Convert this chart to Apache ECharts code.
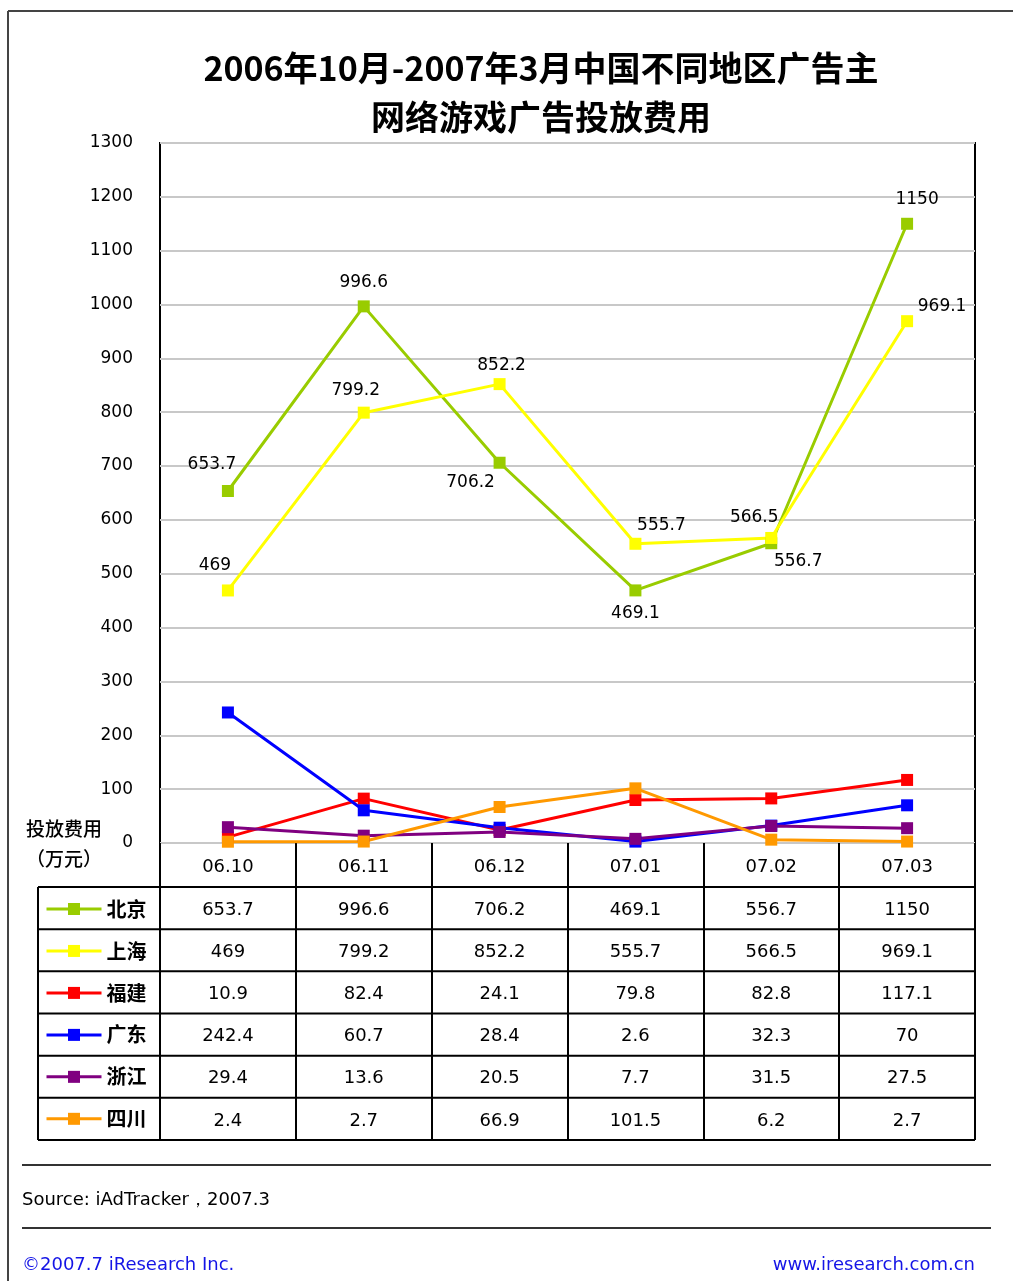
<!DOCTYPE html>
<html><head><meta charset="utf-8">
<script src="https://cdn.jsdelivr.net/npm/echarts@6/dist/echarts.min.js"></script>
<style>html,body{margin:0;padding:0;background:#fff}#c{width:1013px;height:1281px}</style>
</head><body><div id="c"></div>
<script>
// ---- data ----
const categories = ['06.10', '06.11', '06.12', '07.01', '07.02', '07.03'];
const regions = ['北京', '上海', '福建', '广东', '浙江', '四川'];
const beijing = [653.7, 996.6, 706.2, 469.1, 556.7, 1150];
const shanghai = [469, 799.2, 852.2, 555.7, 566.5, 969.1];
const fujian = [10.9, 82.4, 24.1, 79.8, 82.8, 117.1];
const guangdong = [242.4, 60.7, 28.4, 2.6, 32.3, 70];
const zhejiang = [29.4, 13.6, 20.5, 7.7, 31.5, 27.5];
const sichuan = [2.4, 2.7, 66.9, 101.5, 6.2, 2.7];
const yMin = 0, yMax = 1300, yStep = 100;
const titleText = '2006年10月-2007年3月中国不同地区广告主\n网络游戏广告投放费用';

// ---- styles / layout ----
const seriesValues = [beijing, shanghai, fujian, guangdong, zhejiang, sichuan];
const colors = ['#99CC00', '#FFFF00', '#FF0000', '#0000FF', '#800080', '#FF9900'];
const labelOffsets = [
  [[-16, -26], [0, -24], [-29, 20], [0, 23], [27, 18], [10, -24]],
  [[-13, -25], [-8, -22], [2, -19], [26, -18], [-17, -20], [35, -15]],
  null, null, null, null
];
const G = { left: 160, right: 975, top: 143, bottom: 843 };
const tableLeft = 38, headerBottom = 887, tableBottom = 1140;
const rowH = (tableBottom - headerBottom) / 6;
const legendItemH = 20.2;
const numFont = 'DejaVu Sans';
const cjkFont = 'Noto Sans CJK SC';

const xAxes = [{
  type: 'category', data: categories, position: 'bottom', gridIndex: 0,
  axisLine: { show: false },
  axisTick: { show: true, inside: false, length: tableBottom - G.bottom, lineStyle: { color: '#000', width: 2 } },
  axisLabel: { interval: 0, margin: (headerBottom - G.bottom) / 2 + 2, verticalAlign: 'middle', fontFamily: numFont, fontSize: 18, color: '#000' }
}];
seriesValues.forEach((vals, i) => {
  xAxes.push({
    type: 'category', data: categories, position: 'bottom', gridIndex: 0,
    offset: headerBottom + i * rowH - G.bottom,
    axisLine: { show: false }, axisTick: { show: false },
    axisLabel: { interval: 0, margin: rowH / 2 + 2, verticalAlign: 'middle', fontFamily: numFont, fontSize: 18, color: '#000',
      formatter: (v, idx) => String(vals[idx]) }
  });
});

const series = regions.map((name, i) => ({
  name, type: 'line', xAxisIndex: 0, yAxisIndex: 0,
  symbol: 'rect', symbolSize: 12,
  lineStyle: { width: 3, color: colors[i] },
  itemStyle: { color: colors[i] },
  data: seriesValues[i].map((v, j) => labelOffsets[i] ? {
    value: v,
    label: { show: true, position: 'inside', offset: labelOffsets[i][j], formatter: String(v),
      fontFamily: numFont, fontSize: 17, color: '#000' }
  } : v),
  animation: false
}));

const graphics = [];
const line = (x1, y1, x2, y2, color, w) => graphics.push({ type: 'line', shape: { x1, y1, x2, y2 }, style: { stroke: color, lineWidth: w }, silent: true });
// outer frame
line(8, 11, 1013, 11, '#444', 2);
line(8, 11, 8, 1281, '#444', 2);
// table rules
for (let k = 0; k <= 6; k++) { const y = headerBottom + k * rowH; line(tableLeft, y, G.right, y, '#000', 2); }
line(tableLeft, headerBottom, tableLeft, tableBottom, '#000', 2);
// footer rules
line(22, 1165, 991, 1165, '#333', 2);
line(22, 1228, 991, 1228, '#333', 2);
const text = (t, x, y, opts) => graphics.push({ type: 'text', x, y, silent: true, style: Object.assign({ text: t, fill: '#000', verticalAlign: 'middle' }, opts) });
text('投放费用', 64, 829, { align: 'center', font: '500 19px "' + cjkFont + '"' });
text('（万元）', 64, 859, { align: 'center', font: '500 19px "' + cjkFont + '"' });
text('Source: iAdTracker，2007.3', 22, 1200, { align: 'left', font: '18px "' + numFont + '"' });
text('©2007.7 iResearch Inc.', 22, 1265, { align: 'left', font: '18px "' + numFont + '"', fill: '#1414E6' });
text('www.iresearch.com.cn', 975, 1265, { align: 'right', font: '18px "' + numFont + '"', fill: '#1414E6' });

const option = {
  backgroundColor: '#fff',
  animation: false,
  title: {
    text: titleText, left: 536, top: 39, textAlign: 'center',
    textStyle: { fontFamily: cjkFont, fontSize: 34, fontWeight: 'bold', color: '#000', lineHeight: 49 }
  },
  grid: {
    left: G.left, top: G.top, width: G.right - G.left, height: G.bottom - G.top,
    show: true, borderColor: '#000', borderWidth: 2, backgroundColor: 'transparent', containLabel: false
  },
  legend: {
    data: regions, orient: 'vertical', left: 45, top: headerBottom + rowH / 2 - legendItemH / 2 + 1,
    padding: 0, itemWidth: 55, itemHeight: 15, itemGap: rowH - legendItemH, selectedMode: false,
    lineStyle: { width: 3 },
    textStyle: { fontFamily: cjkFont, fontSize: 20, fontWeight: 'bold', color: '#000' }
  },
  xAxis: xAxes,
  yAxis: {
    type: 'value', min: yMin, max: yMax, interval: yStep,
    axisLine: { show: false }, axisTick: { show: false },
    axisLabel: { margin: 27, fontFamily: numFont, fontSize: 17, color: '#000', formatter: v => String(v) },
    splitLine: { lineStyle: { color: '#c8c8c8', width: 2 } }
  },
  series,
  graphic: graphics
};
echarts.init(document.getElementById('c'), null, { renderer: 'canvas' }).setOption(option);
</script>
</body></html>
